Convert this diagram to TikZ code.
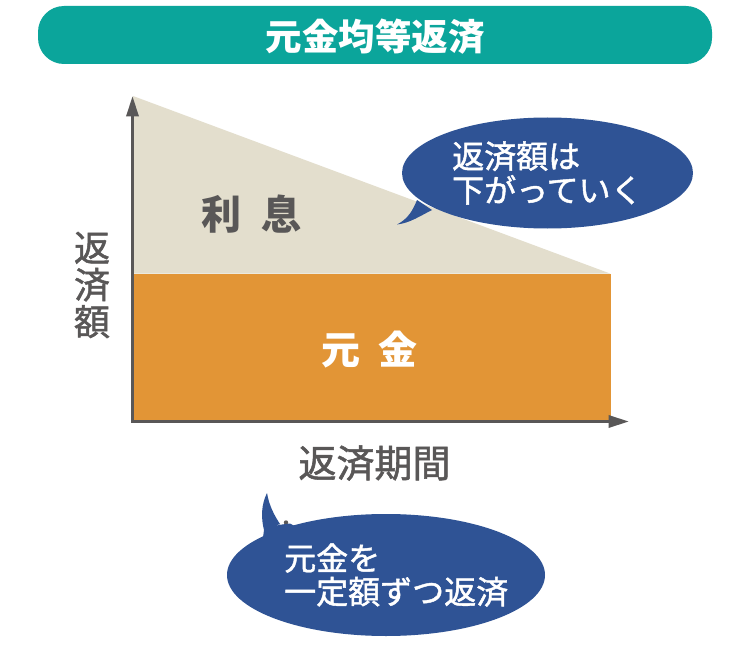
\documentclass[tikz,border=0pt]{standalone}
\usepackage{fontspec}
\setmainfont{Noto Sans CJK JP}
\newfontfamily\medcjk[FakeBold=1.4]{Noto Sans CJK JP}
\usetikzlibrary{arrows.meta}
\definecolor{teal1}{HTML}{0BA59B}
\definecolor{beige1}{HTML}{E3DECD}
\definecolor{orange1}{HTML}{E29536}
\definecolor{blue1}{HTML}{2F5395}
\definecolor{gray1}{HTML}{595757}
\tikzset{
  x=1pt,y=-1pt,
  axisline/.style={draw=gray1,line width=3.4pt,-{Triangle[length=20.5pt,width=12pt]},shorten >=0pt},
  bubble/.style={fill=blue1,draw=none},
  lab/.style={text=gray1,font=\bfseries,inner sep=0pt,align=center},
  bubtext/.style={text=white,inner sep=0pt,align=left,anchor=west},
}
\begin{document}
\begin{tikzpicture}
\useasboundingbox (0,0) rectangle (750,666);
\fill[white] (0,0) rectangle (750,666);
% title
\fill[teal1,rounded corners=26pt] (38,6) rectangle (712,64);
\node[inner sep=0pt,text=white,font=\fontsize{36.5}{36.5}\bfseries\selectfont] (title) at (375,37) {元金均等返済};
% areas
\fill[beige1] (133,96) -- (610,273.5) -- (133,273.5) -- cycle;
\fill[orange1] (133,273.5) rectangle (610.5,420);
% axes
\coordinate (origin) at (132.5,421.5);
\coordinate (ytip) at (132.5,96);
\coordinate (xtip) at (629,421.5);
\draw[axisline] (origin) -- (ytip);
\draw[axisline] (131,421.5) -- (xtip);
% labels
\node[lab,font=\fontsize{40}{40}\bfseries\selectfont] (rishi) at (251,214) {利\hspace{20pt}息};
\node[lab,text=white,font=\fontsize{39}{39}\bfseries\selectfont] (gankin) at (369.5,350) {元\hspace{19pt}金};
\node[lab,font=\fontsize{36}{37}\selectfont\medcjk] (yaxis) at (92,285) {返\\済\\額};
\node[lab,font=\fontsize{38}{38}\selectfont\medcjk] (xaxis) at (374.5,463) {返済期間};
% bubble 1
\fill[bubble] (547.5,173) ellipse [x radius=145.5, y radius=55.5];
\fill[bubble] (397,224.5) .. controls (408,219) and (413,210) .. (417,200) -- (432,210) .. controls (420,216) and (410,223) .. cycle;
\node[bubtext,font=\fontsize{32}{34}\selectfont\medcjk] (b1) at (452,173) {返済額は\\下がっていく};
% bubble 2
\fill[gray1] (286,522.5) circle (2.2pt);
\fill[bubble] (386,575) ellipse [x radius=159, y radius=61];
\fill[bubble] (267,493) .. controls (261,505) and (261,518) .. (264,530) .. controls (272,526) and (280,524.5) .. (290,523.5) -- (320,540) -- (262,545) -- (264,530) -- (280,524) .. controls (274,515) and (269,505) .. cycle;
\node[bubtext,font=\fontsize{32}{33.5}\selectfont\medcjk] (b2) at (284,575) {元金を\\一定額ずつ返済};
\end{tikzpicture}
\end{document}
